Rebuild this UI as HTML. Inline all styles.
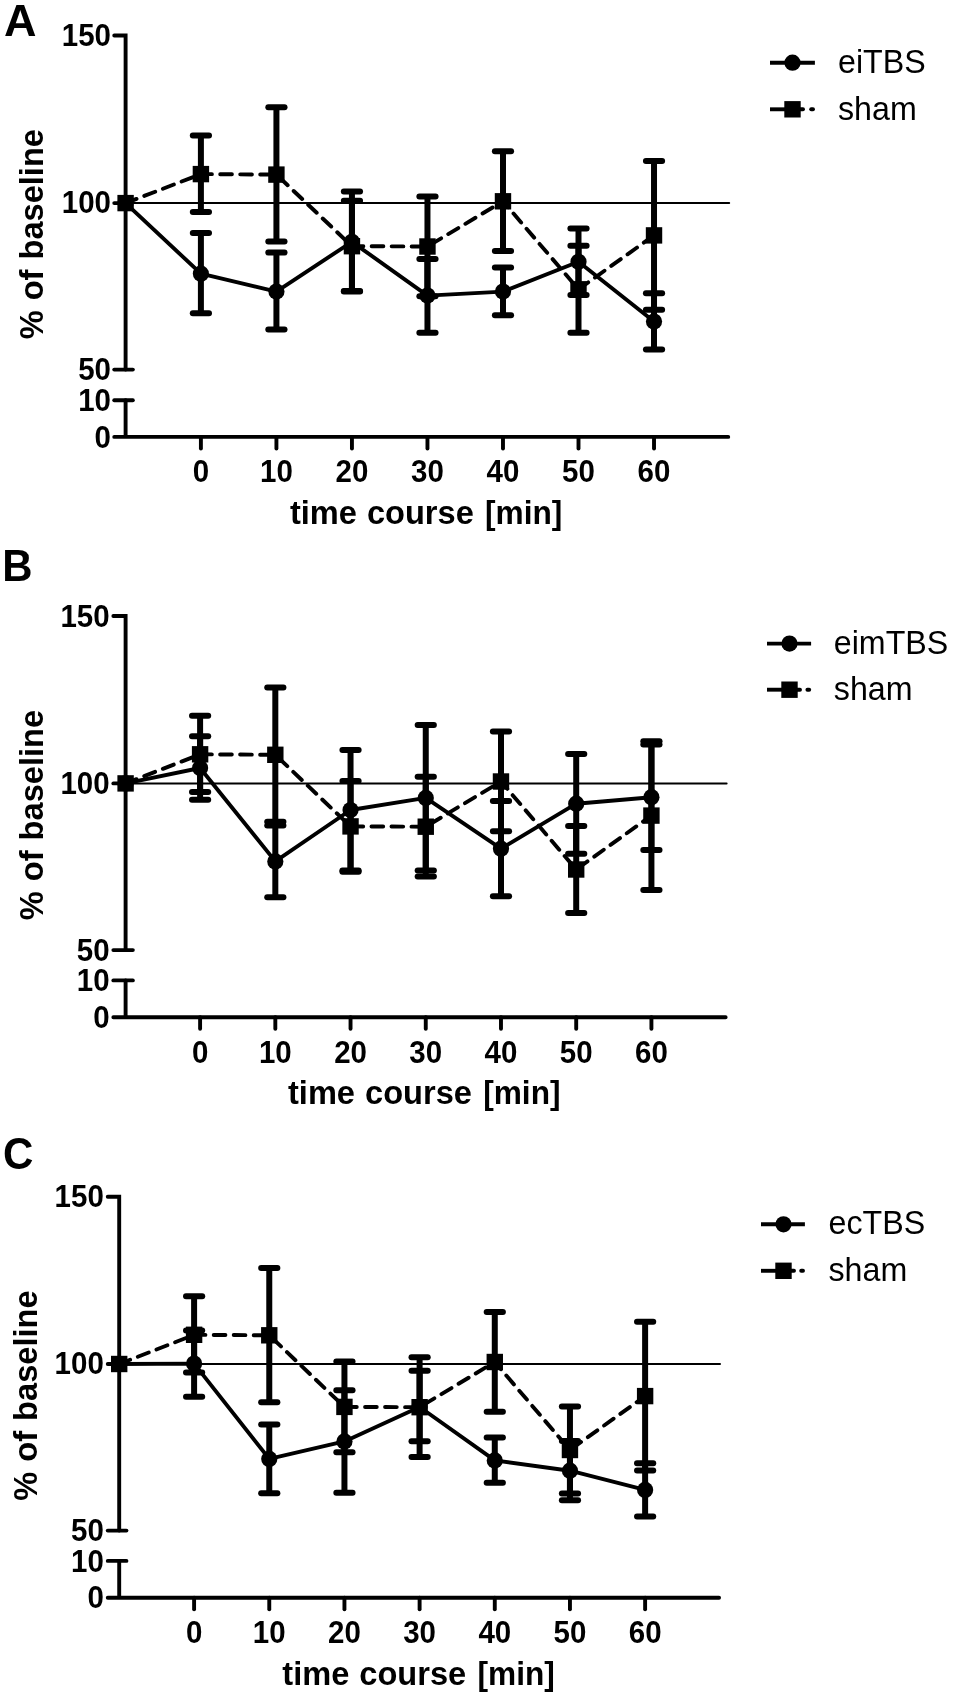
<!DOCTYPE html>
<html lang="en">
<head>
<meta charset="utf-8">
<title>TBS time course</title>
<style>
html,body{margin:0;padding:0;background:#fff;}
body{width:957px;height:1700px;overflow:hidden;}
svg{display:block;will-change:transform;}
svg text{font-family:"Liberation Sans",Arial,Helvetica,sans-serif;fill:#000;stroke:none;}
  .pl{font-size:45px;font-weight:bold;}
.tk{font-size:29.5px;font-weight:bold;}
.ti{font-size:32.6px;font-weight:bold;word-spacing:1px;}
.lg{font-size:32.2px;font-weight:normal;}
</style>
</head>
<body>
<svg width="957" height="1700" viewBox="0 0 957 1700" stroke="#000">
<rect x="0" y="0" width="957" height="1700" fill="#fff" stroke="none"/>
<g id="panelA">
<text transform="translate(4 36.4)" class="pl">A</text>
<line x1="125.6" y1="203.1" x2="729.2" y2="203.1" stroke-width="2.0" stroke-linecap="round"/>
<path d="M114.25 35.5H125.6V369.6" fill="none" stroke-width="3.9" stroke-linejoin="miter" stroke-linecap="round"/>
<line x1="114.25" y1="203.1" x2="125.6" y2="203.1" stroke-width="3.9" stroke-linecap="round"/>
<line x1="114.25" y1="369.6" x2="132.85" y2="369.6" stroke-width="3.9" stroke-linecap="round"/>
<line x1="114.25" y1="400.2" x2="132.85" y2="400.2" stroke-width="3.9" stroke-linecap="round"/>
<path d="M125.6 400.2V436.9M114.25 436.9H728.25" fill="none" stroke-width="3.9" stroke-linecap="round"/>
<line x1="200.9" y1="436.9" x2="200.9" y2="448.45" stroke-width="3.9" stroke-linecap="round"/>
<text transform="translate(200.9 482.2) scale(1.0 1.065)" class="tk" text-anchor="middle">0</text>
<line x1="276.42" y1="436.9" x2="276.42" y2="448.45" stroke-width="3.9" stroke-linecap="round"/>
<text transform="translate(276.42 482.2) scale(1.0 1.065)" class="tk" text-anchor="middle">10</text>
<line x1="351.94" y1="436.9" x2="351.94" y2="448.45" stroke-width="3.9" stroke-linecap="round"/>
<text transform="translate(351.94 482.2) scale(1.0 1.065)" class="tk" text-anchor="middle">20</text>
<line x1="427.46" y1="436.9" x2="427.46" y2="448.45" stroke-width="3.9" stroke-linecap="round"/>
<text transform="translate(427.46 482.2) scale(1.0 1.065)" class="tk" text-anchor="middle">30</text>
<line x1="502.98" y1="436.9" x2="502.98" y2="448.45" stroke-width="3.9" stroke-linecap="round"/>
<text transform="translate(502.98 482.2) scale(1.0 1.065)" class="tk" text-anchor="middle">40</text>
<line x1="578.5" y1="436.9" x2="578.5" y2="448.45" stroke-width="3.9" stroke-linecap="round"/>
<text transform="translate(578.5 482.2) scale(1.0 1.065)" class="tk" text-anchor="middle">50</text>
<line x1="654.02" y1="436.9" x2="654.02" y2="448.45" stroke-width="3.9" stroke-linecap="round"/>
<text transform="translate(654.02 482.2) scale(1.0 1.065)" class="tk" text-anchor="middle">60</text>
<text transform="translate(111 45.8) scale(1.0 1.065)" class="tk" text-anchor="end">150</text>
<text transform="translate(111 213.2) scale(1.0 1.065)" class="tk" text-anchor="end">100</text>
<text transform="translate(111 380.2) scale(1.0 1.065)" class="tk" text-anchor="end">50</text>
<text transform="translate(111 410.8) scale(1.0 1.065)" class="tk" text-anchor="end">10</text>
<text transform="translate(111 447.5) scale(1.0 1.065)" class="tk" text-anchor="end">0</text>
<text transform="translate(289.9 523.5) scale(1.0 1.015)" class="ti" text-anchor="start">time course</text>
<text transform="translate(562.4 523.5) scale(0.971 1.015)" class="ti" text-anchor="end">[min]</text>
<text transform="translate(42.8 234.2) rotate(-90) scale(1.0 1.015)" class="ti" text-anchor="middle">% of baseline</text>
<path d="M200.9 233.1V313.3" stroke-width="6.0" fill="none"/>
<line x1="192.8" y1="233.1" x2="209" y2="233.1" stroke-width="6.0" stroke-linecap="round"/>
<line x1="192.8" y1="313.3" x2="209" y2="313.3" stroke-width="6.0" stroke-linecap="round"/>
<path d="M276.42 252.6V329.6" stroke-width="6.0" fill="none"/>
<line x1="268.32" y1="252.6" x2="284.52" y2="252.6" stroke-width="6.0" stroke-linecap="round"/>
<line x1="268.32" y1="329.6" x2="284.52" y2="329.6" stroke-width="6.0" stroke-linecap="round"/>
<path d="M351.94 191.6V291" stroke-width="6.0" fill="none"/>
<line x1="343.84" y1="191.6" x2="360.04" y2="191.6" stroke-width="6.0" stroke-linecap="round"/>
<line x1="343.84" y1="291" x2="360.04" y2="291" stroke-width="6.0" stroke-linecap="round"/>
<path d="M427.46 258.9V332.8" stroke-width="6.0" fill="none"/>
<line x1="419.36" y1="258.9" x2="435.56" y2="258.9" stroke-width="6.0" stroke-linecap="round"/>
<line x1="419.36" y1="332.8" x2="435.56" y2="332.8" stroke-width="6.0" stroke-linecap="round"/>
<path d="M502.98 267.5V315.2" stroke-width="6.0" fill="none"/>
<line x1="494.88" y1="267.5" x2="511.08" y2="267.5" stroke-width="6.0" stroke-linecap="round"/>
<line x1="494.88" y1="315.2" x2="511.08" y2="315.2" stroke-width="6.0" stroke-linecap="round"/>
<path d="M578.5 228.5V295" stroke-width="6.0" fill="none"/>
<line x1="570.4" y1="228.5" x2="586.6" y2="228.5" stroke-width="6.0" stroke-linecap="round"/>
<line x1="570.4" y1="295" x2="586.6" y2="295" stroke-width="6.0" stroke-linecap="round"/>
<path d="M654.02 293.3V349.6" stroke-width="6.0" fill="none"/>
<line x1="645.92" y1="293.3" x2="662.12" y2="293.3" stroke-width="6.0" stroke-linecap="round"/>
<line x1="645.92" y1="349.6" x2="662.12" y2="349.6" stroke-width="6.0" stroke-linecap="round"/>
<path d="M125.6 203.1L200.9 273.7L276.42 291.6L351.94 241.8L427.46 295.6L502.98 291.6L578.5 261.8L654.02 321.5" fill="none" stroke-width="3.9" stroke-linejoin="round"/>
<circle cx="125.6" cy="203.1" r="8.1" fill="#000" stroke="none"/>
<circle cx="200.9" cy="273.7" r="8.1" fill="#000" stroke="none"/>
<circle cx="276.42" cy="291.6" r="8.1" fill="#000" stroke="none"/>
<circle cx="351.94" cy="241.8" r="8.1" fill="#000" stroke="none"/>
<circle cx="427.46" cy="295.6" r="8.1" fill="#000" stroke="none"/>
<circle cx="502.98" cy="291.6" r="8.1" fill="#000" stroke="none"/>
<circle cx="578.5" cy="261.8" r="8.1" fill="#000" stroke="none"/>
<circle cx="654.02" cy="321.5" r="8.1" fill="#000" stroke="none"/>
<path d="M200.9 135.5V211.9" stroke-width="6.0" fill="none"/>
<line x1="192.8" y1="135.5" x2="209" y2="135.5" stroke-width="6.0" stroke-linecap="round"/>
<line x1="192.8" y1="211.9" x2="209" y2="211.9" stroke-width="6.0" stroke-linecap="round"/>
<path d="M276.42 107.2V241.6" stroke-width="6.0" fill="none"/>
<line x1="268.32" y1="107.2" x2="284.52" y2="107.2" stroke-width="6.0" stroke-linecap="round"/>
<line x1="268.32" y1="241.6" x2="284.52" y2="241.6" stroke-width="6.0" stroke-linecap="round"/>
<path d="M351.94 200.8V291.6" stroke-width="6.0" fill="none"/>
<line x1="343.84" y1="200.8" x2="360.04" y2="200.8" stroke-width="6.0" stroke-linecap="round"/>
<line x1="343.84" y1="291.6" x2="360.04" y2="291.6" stroke-width="6.0" stroke-linecap="round"/>
<path d="M427.46 196.6V296.2" stroke-width="6.0" fill="none"/>
<line x1="419.36" y1="196.6" x2="435.56" y2="196.6" stroke-width="6.0" stroke-linecap="round"/>
<line x1="419.36" y1="296.2" x2="435.56" y2="296.2" stroke-width="6.0" stroke-linecap="round"/>
<path d="M502.98 151.2V251" stroke-width="6.0" fill="none"/>
<line x1="494.88" y1="151.2" x2="511.08" y2="151.2" stroke-width="6.0" stroke-linecap="round"/>
<line x1="494.88" y1="251" x2="511.08" y2="251" stroke-width="6.0" stroke-linecap="round"/>
<path d="M578.5 245.8V332.8" stroke-width="6.0" fill="none"/>
<line x1="570.4" y1="245.8" x2="586.6" y2="245.8" stroke-width="6.0" stroke-linecap="round"/>
<line x1="570.4" y1="332.8" x2="586.6" y2="332.8" stroke-width="6.0" stroke-linecap="round"/>
<path d="M654.02 161V309.7" stroke-width="6.0" fill="none"/>
<line x1="645.92" y1="161" x2="662.12" y2="161" stroke-width="6.0" stroke-linecap="round"/>
<line x1="645.92" y1="309.7" x2="662.12" y2="309.7" stroke-width="6.0" stroke-linecap="round"/>
<path d="M125.6 203.1L200.9 174.1L276.42 174.6L351.94 246.2L427.46 246.5L502.98 201.3L578.5 289.3L654.02 235.4" fill="none" stroke-width="3.9" stroke-dasharray="11.7 8.3" stroke-linecap="round"/>
<rect x="117.4" y="194.9" width="16.4" height="16.4" fill="#000" stroke="none"/>
<rect x="192.7" y="165.9" width="16.4" height="16.4" fill="#000" stroke="none"/>
<rect x="268.22" y="166.4" width="16.4" height="16.4" fill="#000" stroke="none"/>
<rect x="343.74" y="238" width="16.4" height="16.4" fill="#000" stroke="none"/>
<rect x="419.26" y="238.3" width="16.4" height="16.4" fill="#000" stroke="none"/>
<rect x="494.78" y="193.1" width="16.4" height="16.4" fill="#000" stroke="none"/>
<rect x="570.3" y="281.1" width="16.4" height="16.4" fill="#000" stroke="none"/>
<rect x="645.82" y="227.2" width="16.4" height="16.4" fill="#000" stroke="none"/>
<line x1="770" y1="62.7" x2="814.9" y2="62.7" stroke-width="3.9"/>
<circle cx="792.5" cy="62.7" r="8.1" fill="#000" stroke="none"/>
<text transform="translate(838 73.2) scale(1.0 1.02)" class="lg">eiTBS</text>
<line x1="770" y1="109.3" x2="800" y2="109.3" stroke-width="3.9"/>
<line x1="800" y1="109.3" x2="803" y2="109.3" stroke-width="3.9" stroke-linecap="round"/>
<line x1="811.2" y1="109.3" x2="813" y2="109.3" stroke-width="3.9" stroke-linecap="round"/>
<rect x="784.3" y="101.1" width="16.4" height="16.4" fill="#000" stroke="none"/>
<text transform="translate(838 120.1) scale(1.0 1.02)" class="lg">sham</text>
</g>
<g id="panelB">
<text transform="translate(2.2 580.6) scale(0.93 1.0)" class="pl">B</text>
<line x1="125.6" y1="783.4" x2="726.6" y2="783.4" stroke-width="2.0" stroke-linecap="round"/>
<path d="M113.35 616H125.6V950.1" fill="none" stroke-width="3.9" stroke-linejoin="miter" stroke-linecap="round"/>
<line x1="113.35" y1="783.4" x2="125.6" y2="783.4" stroke-width="3.9" stroke-linecap="round"/>
<line x1="113.35" y1="950.1" x2="132.85" y2="950.1" stroke-width="3.9" stroke-linecap="round"/>
<line x1="113.35" y1="980.4" x2="132.85" y2="980.4" stroke-width="3.9" stroke-linecap="round"/>
<path d="M125.6 980.4V1017.2M113.35 1017.2H725.65" fill="none" stroke-width="3.9" stroke-linecap="round"/>
<line x1="200.1" y1="1017.2" x2="200.1" y2="1028.75" stroke-width="3.9" stroke-linecap="round"/>
<text transform="translate(200.1 1062.5) scale(1.0 1.065)" class="tk" text-anchor="middle">0</text>
<line x1="275.32" y1="1017.2" x2="275.32" y2="1028.75" stroke-width="3.9" stroke-linecap="round"/>
<text transform="translate(275.32 1062.5) scale(1.0 1.065)" class="tk" text-anchor="middle">10</text>
<line x1="350.54" y1="1017.2" x2="350.54" y2="1028.75" stroke-width="3.9" stroke-linecap="round"/>
<text transform="translate(350.54 1062.5) scale(1.0 1.065)" class="tk" text-anchor="middle">20</text>
<line x1="425.76" y1="1017.2" x2="425.76" y2="1028.75" stroke-width="3.9" stroke-linecap="round"/>
<text transform="translate(425.76 1062.5) scale(1.0 1.065)" class="tk" text-anchor="middle">30</text>
<line x1="500.98" y1="1017.2" x2="500.98" y2="1028.75" stroke-width="3.9" stroke-linecap="round"/>
<text transform="translate(500.98 1062.5) scale(1.0 1.065)" class="tk" text-anchor="middle">40</text>
<line x1="576.2" y1="1017.2" x2="576.2" y2="1028.75" stroke-width="3.9" stroke-linecap="round"/>
<text transform="translate(576.2 1062.5) scale(1.0 1.065)" class="tk" text-anchor="middle">50</text>
<line x1="651.42" y1="1017.2" x2="651.42" y2="1028.75" stroke-width="3.9" stroke-linecap="round"/>
<text transform="translate(651.42 1062.5) scale(1.0 1.065)" class="tk" text-anchor="middle">60</text>
<text transform="translate(109.6 626.6) scale(1.0 1.065)" class="tk" text-anchor="end">150</text>
<text transform="translate(109.6 793.65) scale(1.0 1.065)" class="tk" text-anchor="end">100</text>
<text transform="translate(109.6 960.7) scale(1.0 1.065)" class="tk" text-anchor="end">50</text>
<text transform="translate(109.6 991) scale(1.0 1.065)" class="tk" text-anchor="end">10</text>
<text transform="translate(109.6 1027.8) scale(1.0 1.065)" class="tk" text-anchor="end">0</text>
<text transform="translate(288 1103.6) scale(1.0 1.015)" class="ti" text-anchor="start">time course</text>
<text transform="translate(560.5 1103.6) scale(0.971 1.015)" class="ti" text-anchor="end">[min]</text>
<text transform="translate(42.8 815.1) rotate(-90) scale(1.0 1.015)" class="ti" text-anchor="middle">% of baseline</text>
<path d="M200.1 736.3V799.7" stroke-width="6.0" fill="none"/>
<line x1="192" y1="736.3" x2="208.2" y2="736.3" stroke-width="6.0" stroke-linecap="round"/>
<line x1="192" y1="799.7" x2="208.2" y2="799.7" stroke-width="6.0" stroke-linecap="round"/>
<path d="M275.32 825.4V897.2" stroke-width="6.0" fill="none"/>
<line x1="267.22" y1="825.4" x2="283.42" y2="825.4" stroke-width="6.0" stroke-linecap="round"/>
<line x1="267.22" y1="897.2" x2="283.42" y2="897.2" stroke-width="6.0" stroke-linecap="round"/>
<path d="M350.54 750V870.4" stroke-width="6.0" fill="none"/>
<line x1="342.44" y1="750" x2="358.64" y2="750" stroke-width="6.0" stroke-linecap="round"/>
<line x1="342.44" y1="870.4" x2="358.64" y2="870.4" stroke-width="6.0" stroke-linecap="round"/>
<path d="M425.76 725V870.4" stroke-width="6.0" fill="none"/>
<line x1="417.66" y1="725" x2="433.86" y2="725" stroke-width="6.0" stroke-linecap="round"/>
<line x1="417.66" y1="870.4" x2="433.86" y2="870.4" stroke-width="6.0" stroke-linecap="round"/>
<path d="M500.98 801V896.2" stroke-width="6.0" fill="none"/>
<line x1="492.88" y1="801" x2="509.08" y2="801" stroke-width="6.0" stroke-linecap="round"/>
<line x1="492.88" y1="896.2" x2="509.08" y2="896.2" stroke-width="6.0" stroke-linecap="round"/>
<path d="M576.2 754.1V853.8" stroke-width="6.0" fill="none"/>
<line x1="568.1" y1="754.1" x2="584.3" y2="754.1" stroke-width="6.0" stroke-linecap="round"/>
<line x1="568.1" y1="853.8" x2="584.3" y2="853.8" stroke-width="6.0" stroke-linecap="round"/>
<path d="M651.42 744.4V850" stroke-width="6.0" fill="none"/>
<line x1="643.32" y1="744.4" x2="659.52" y2="744.4" stroke-width="6.0" stroke-linecap="round"/>
<line x1="643.32" y1="850" x2="659.52" y2="850" stroke-width="6.0" stroke-linecap="round"/>
<path d="M125.6 783.4L200.1 768L275.32 861.4L350.54 810L425.76 797.9L500.98 848.7L576.2 803.7L651.42 797.2" fill="none" stroke-width="3.9" stroke-linejoin="round"/>
<circle cx="125.6" cy="783.4" r="8.1" fill="#000" stroke="none"/>
<circle cx="200.1" cy="768" r="8.1" fill="#000" stroke="none"/>
<circle cx="275.32" cy="861.4" r="8.1" fill="#000" stroke="none"/>
<circle cx="350.54" cy="810" r="8.1" fill="#000" stroke="none"/>
<circle cx="425.76" cy="797.9" r="8.1" fill="#000" stroke="none"/>
<circle cx="500.98" cy="848.7" r="8.1" fill="#000" stroke="none"/>
<circle cx="576.2" cy="803.7" r="8.1" fill="#000" stroke="none"/>
<circle cx="651.42" cy="797.2" r="8.1" fill="#000" stroke="none"/>
<path d="M200.1 715.7V792.1" stroke-width="6.0" fill="none"/>
<line x1="192" y1="715.7" x2="208.2" y2="715.7" stroke-width="6.0" stroke-linecap="round"/>
<line x1="192" y1="792.1" x2="208.2" y2="792.1" stroke-width="6.0" stroke-linecap="round"/>
<path d="M275.32 687.4V821.8" stroke-width="6.0" fill="none"/>
<line x1="267.22" y1="687.4" x2="283.42" y2="687.4" stroke-width="6.0" stroke-linecap="round"/>
<line x1="267.22" y1="821.8" x2="283.42" y2="821.8" stroke-width="6.0" stroke-linecap="round"/>
<path d="M350.54 781V871.8" stroke-width="6.0" fill="none"/>
<line x1="342.44" y1="781" x2="358.64" y2="781" stroke-width="6.0" stroke-linecap="round"/>
<line x1="342.44" y1="871.8" x2="358.64" y2="871.8" stroke-width="6.0" stroke-linecap="round"/>
<path d="M425.76 776.8V876.4" stroke-width="6.0" fill="none"/>
<line x1="417.66" y1="776.8" x2="433.86" y2="776.8" stroke-width="6.0" stroke-linecap="round"/>
<line x1="417.66" y1="876.4" x2="433.86" y2="876.4" stroke-width="6.0" stroke-linecap="round"/>
<path d="M500.98 731.4V831.2" stroke-width="6.0" fill="none"/>
<line x1="492.88" y1="731.4" x2="509.08" y2="731.4" stroke-width="6.0" stroke-linecap="round"/>
<line x1="492.88" y1="831.2" x2="509.08" y2="831.2" stroke-width="6.0" stroke-linecap="round"/>
<path d="M576.2 826V913" stroke-width="6.0" fill="none"/>
<line x1="568.1" y1="826" x2="584.3" y2="826" stroke-width="6.0" stroke-linecap="round"/>
<line x1="568.1" y1="913" x2="584.3" y2="913" stroke-width="6.0" stroke-linecap="round"/>
<path d="M651.42 741.2V889.9" stroke-width="6.0" fill="none"/>
<line x1="643.32" y1="741.2" x2="659.52" y2="741.2" stroke-width="6.0" stroke-linecap="round"/>
<line x1="643.32" y1="889.9" x2="659.52" y2="889.9" stroke-width="6.0" stroke-linecap="round"/>
<path d="M125.6 783.4L200.1 754.3L275.32 754.8L350.54 826.4L425.76 826.7L500.98 781.5L576.2 869.5L651.42 815.6" fill="none" stroke-width="3.9" stroke-dasharray="11.7 8.3" stroke-linecap="round"/>
<rect x="117.4" y="775.2" width="16.4" height="16.4" fill="#000" stroke="none"/>
<rect x="191.9" y="746.1" width="16.4" height="16.4" fill="#000" stroke="none"/>
<rect x="267.12" y="746.6" width="16.4" height="16.4" fill="#000" stroke="none"/>
<rect x="342.34" y="818.2" width="16.4" height="16.4" fill="#000" stroke="none"/>
<rect x="417.56" y="818.5" width="16.4" height="16.4" fill="#000" stroke="none"/>
<rect x="492.78" y="773.3" width="16.4" height="16.4" fill="#000" stroke="none"/>
<rect x="568" y="861.3" width="16.4" height="16.4" fill="#000" stroke="none"/>
<rect x="643.22" y="807.4" width="16.4" height="16.4" fill="#000" stroke="none"/>
<line x1="767" y1="643.6" x2="811.1" y2="643.6" stroke-width="3.9"/>
<circle cx="789.5" cy="643.6" r="8.1" fill="#000" stroke="none"/>
<text transform="translate(833.8 653.8) scale(1.0 1.02)" class="lg">eimTBS</text>
<line x1="767" y1="689.7" x2="797" y2="689.7" stroke-width="3.9"/>
<line x1="797" y1="689.7" x2="800" y2="689.7" stroke-width="3.9" stroke-linecap="round"/>
<line x1="807.4" y1="689.7" x2="809.2" y2="689.7" stroke-width="3.9" stroke-linecap="round"/>
<rect x="781.3" y="681.5" width="16.4" height="16.4" fill="#000" stroke="none"/>
<text transform="translate(833.8 700.1) scale(1.0 1.02)" class="lg">sham</text>
</g>
<g id="panelC">
<text transform="translate(3 1168.6) scale(0.935 1.0)" class="pl">C</text>
<line x1="119.2" y1="1364" x2="720" y2="1364" stroke-width="2.0" stroke-linecap="round"/>
<path d="M107.75 1196.7H119.2V1530.6" fill="none" stroke-width="3.9" stroke-linejoin="miter" stroke-linecap="round"/>
<line x1="107.75" y1="1364" x2="119.2" y2="1364" stroke-width="3.9" stroke-linecap="round"/>
<line x1="107.75" y1="1530.6" x2="126.45" y2="1530.6" stroke-width="3.9" stroke-linecap="round"/>
<line x1="107.75" y1="1560.9" x2="126.45" y2="1560.9" stroke-width="3.9" stroke-linecap="round"/>
<path d="M119.2 1560.9V1597.8M107.75 1597.8H719.05" fill="none" stroke-width="3.9" stroke-linecap="round"/>
<line x1="194.1" y1="1597.8" x2="194.1" y2="1609.35" stroke-width="3.9" stroke-linecap="round"/>
<text transform="translate(194.1 1643.1) scale(1.0 1.065)" class="tk" text-anchor="middle">0</text>
<line x1="269.27" y1="1597.8" x2="269.27" y2="1609.35" stroke-width="3.9" stroke-linecap="round"/>
<text transform="translate(269.27 1643.1) scale(1.0 1.065)" class="tk" text-anchor="middle">10</text>
<line x1="344.44" y1="1597.8" x2="344.44" y2="1609.35" stroke-width="3.9" stroke-linecap="round"/>
<text transform="translate(344.44 1643.1) scale(1.0 1.065)" class="tk" text-anchor="middle">20</text>
<line x1="419.61" y1="1597.8" x2="419.61" y2="1609.35" stroke-width="3.9" stroke-linecap="round"/>
<text transform="translate(419.61 1643.1) scale(1.0 1.065)" class="tk" text-anchor="middle">30</text>
<line x1="494.78" y1="1597.8" x2="494.78" y2="1609.35" stroke-width="3.9" stroke-linecap="round"/>
<text transform="translate(494.78 1643.1) scale(1.0 1.065)" class="tk" text-anchor="middle">40</text>
<line x1="569.95" y1="1597.8" x2="569.95" y2="1609.35" stroke-width="3.9" stroke-linecap="round"/>
<text transform="translate(569.95 1643.1) scale(1.0 1.065)" class="tk" text-anchor="middle">50</text>
<line x1="645.12" y1="1597.8" x2="645.12" y2="1609.35" stroke-width="3.9" stroke-linecap="round"/>
<text transform="translate(645.12 1643.1) scale(1.0 1.065)" class="tk" text-anchor="middle">60</text>
<text transform="translate(103.8 1207.3) scale(1.0 1.065)" class="tk" text-anchor="end">150</text>
<text transform="translate(103.8 1374.25) scale(1.0 1.065)" class="tk" text-anchor="end">100</text>
<text transform="translate(103.8 1541.2) scale(1.0 1.065)" class="tk" text-anchor="end">50</text>
<text transform="translate(103.8 1571.5) scale(1.0 1.065)" class="tk" text-anchor="end">10</text>
<text transform="translate(103.8 1608) scale(1.0 1.065)" class="tk" text-anchor="end">0</text>
<text transform="translate(282.3 1684.5) scale(1.0 1.015)" class="ti" text-anchor="start">time course</text>
<text transform="translate(554.8 1684.5) scale(0.971 1.015)" class="ti" text-anchor="end">[min]</text>
<text transform="translate(36.6 1395.6) rotate(-90) scale(1.0 1.015)" class="ti" text-anchor="middle">% of baseline</text>
<path d="M194.1 1330.5V1396.8" stroke-width="6.0" fill="none"/>
<line x1="186" y1="1330.5" x2="202.2" y2="1330.5" stroke-width="6.0" stroke-linecap="round"/>
<line x1="186" y1="1396.8" x2="202.2" y2="1396.8" stroke-width="6.0" stroke-linecap="round"/>
<path d="M269.27 1424.4V1493.3" stroke-width="6.0" fill="none"/>
<line x1="261.17" y1="1424.4" x2="277.37" y2="1424.4" stroke-width="6.0" stroke-linecap="round"/>
<line x1="261.17" y1="1493.3" x2="277.37" y2="1493.3" stroke-width="6.0" stroke-linecap="round"/>
<path d="M344.44 1390.2V1492.8" stroke-width="6.0" fill="none"/>
<line x1="336.34" y1="1390.2" x2="352.54" y2="1390.2" stroke-width="6.0" stroke-linecap="round"/>
<line x1="336.34" y1="1492.8" x2="352.54" y2="1492.8" stroke-width="6.0" stroke-linecap="round"/>
<path d="M419.61 1370.7V1441.2" stroke-width="6.0" fill="none"/>
<line x1="411.51" y1="1370.7" x2="427.71" y2="1370.7" stroke-width="6.0" stroke-linecap="round"/>
<line x1="411.51" y1="1441.2" x2="427.71" y2="1441.2" stroke-width="6.0" stroke-linecap="round"/>
<path d="M494.78 1437.4V1482.8" stroke-width="6.0" fill="none"/>
<line x1="486.68" y1="1437.4" x2="502.88" y2="1437.4" stroke-width="6.0" stroke-linecap="round"/>
<line x1="486.68" y1="1482.8" x2="502.88" y2="1482.8" stroke-width="6.0" stroke-linecap="round"/>
<path d="M569.95 1441.1V1500.3" stroke-width="6.0" fill="none"/>
<line x1="561.85" y1="1441.1" x2="578.05" y2="1441.1" stroke-width="6.0" stroke-linecap="round"/>
<line x1="561.85" y1="1500.3" x2="578.05" y2="1500.3" stroke-width="6.0" stroke-linecap="round"/>
<path d="M645.12 1463.2V1516.5" stroke-width="6.0" fill="none"/>
<line x1="637.02" y1="1463.2" x2="653.22" y2="1463.2" stroke-width="6.0" stroke-linecap="round"/>
<line x1="637.02" y1="1516.5" x2="653.22" y2="1516.5" stroke-width="6.0" stroke-linecap="round"/>
<path d="M119.2 1364L194.1 1363.6L269.27 1458.9L344.44 1441.4L419.61 1407L494.78 1460.4L569.95 1470.7L645.12 1489.9" fill="none" stroke-width="3.9" stroke-linejoin="round"/>
<circle cx="119.2" cy="1364" r="8.1" fill="#000" stroke="none"/>
<circle cx="194.1" cy="1363.6" r="8.1" fill="#000" stroke="none"/>
<circle cx="269.27" cy="1458.9" r="8.1" fill="#000" stroke="none"/>
<circle cx="344.44" cy="1441.4" r="8.1" fill="#000" stroke="none"/>
<circle cx="419.61" cy="1407" r="8.1" fill="#000" stroke="none"/>
<circle cx="494.78" cy="1460.4" r="8.1" fill="#000" stroke="none"/>
<circle cx="569.95" cy="1470.7" r="8.1" fill="#000" stroke="none"/>
<circle cx="645.12" cy="1489.9" r="8.1" fill="#000" stroke="none"/>
<path d="M194.1 1296.2V1372.6" stroke-width="6.0" fill="none"/>
<line x1="186" y1="1296.2" x2="202.2" y2="1296.2" stroke-width="6.0" stroke-linecap="round"/>
<line x1="186" y1="1372.6" x2="202.2" y2="1372.6" stroke-width="6.0" stroke-linecap="round"/>
<path d="M269.27 1267.9V1402.3" stroke-width="6.0" fill="none"/>
<line x1="261.17" y1="1267.9" x2="277.37" y2="1267.9" stroke-width="6.0" stroke-linecap="round"/>
<line x1="261.17" y1="1402.3" x2="277.37" y2="1402.3" stroke-width="6.0" stroke-linecap="round"/>
<path d="M344.44 1361.5V1452.3" stroke-width="6.0" fill="none"/>
<line x1="336.34" y1="1361.5" x2="352.54" y2="1361.5" stroke-width="6.0" stroke-linecap="round"/>
<line x1="336.34" y1="1452.3" x2="352.54" y2="1452.3" stroke-width="6.0" stroke-linecap="round"/>
<path d="M419.61 1357.3V1456.9" stroke-width="6.0" fill="none"/>
<line x1="411.51" y1="1357.3" x2="427.71" y2="1357.3" stroke-width="6.0" stroke-linecap="round"/>
<line x1="411.51" y1="1456.9" x2="427.71" y2="1456.9" stroke-width="6.0" stroke-linecap="round"/>
<path d="M494.78 1311.9V1411.7" stroke-width="6.0" fill="none"/>
<line x1="486.68" y1="1311.9" x2="502.88" y2="1311.9" stroke-width="6.0" stroke-linecap="round"/>
<line x1="486.68" y1="1411.7" x2="502.88" y2="1411.7" stroke-width="6.0" stroke-linecap="round"/>
<path d="M569.95 1406.5V1493.5" stroke-width="6.0" fill="none"/>
<line x1="561.85" y1="1406.5" x2="578.05" y2="1406.5" stroke-width="6.0" stroke-linecap="round"/>
<line x1="561.85" y1="1493.5" x2="578.05" y2="1493.5" stroke-width="6.0" stroke-linecap="round"/>
<path d="M645.12 1321.7V1470.4" stroke-width="6.0" fill="none"/>
<line x1="637.02" y1="1321.7" x2="653.22" y2="1321.7" stroke-width="6.0" stroke-linecap="round"/>
<line x1="637.02" y1="1470.4" x2="653.22" y2="1470.4" stroke-width="6.0" stroke-linecap="round"/>
<path d="M119.2 1364L194.1 1334.8L269.27 1335.3L344.44 1406.9L419.61 1407.2L494.78 1362L569.95 1450L645.12 1396.1" fill="none" stroke-width="3.9" stroke-dasharray="11.7 8.3" stroke-linecap="round"/>
<rect x="111" y="1355.8" width="16.4" height="16.4" fill="#000" stroke="none"/>
<rect x="185.9" y="1326.6" width="16.4" height="16.4" fill="#000" stroke="none"/>
<rect x="261.07" y="1327.1" width="16.4" height="16.4" fill="#000" stroke="none"/>
<rect x="336.24" y="1398.7" width="16.4" height="16.4" fill="#000" stroke="none"/>
<rect x="411.41" y="1399" width="16.4" height="16.4" fill="#000" stroke="none"/>
<rect x="486.58" y="1353.8" width="16.4" height="16.4" fill="#000" stroke="none"/>
<rect x="561.75" y="1441.8" width="16.4" height="16.4" fill="#000" stroke="none"/>
<rect x="636.92" y="1387.9" width="16.4" height="16.4" fill="#000" stroke="none"/>
<line x1="761" y1="1224.3" x2="804.9" y2="1224.3" stroke-width="3.9"/>
<circle cx="783.5" cy="1224.3" r="8.1" fill="#000" stroke="none"/>
<text transform="translate(828.5 1234.3) scale(1.0 1.02)" class="lg">ecTBS</text>
<line x1="761" y1="1270.8" x2="791" y2="1270.8" stroke-width="3.9"/>
<line x1="791" y1="1270.8" x2="794" y2="1270.8" stroke-width="3.9" stroke-linecap="round"/>
<line x1="801.2" y1="1270.8" x2="803" y2="1270.8" stroke-width="3.9" stroke-linecap="round"/>
<rect x="775.3" y="1262.6" width="16.4" height="16.4" fill="#000" stroke="none"/>
<text transform="translate(828.5 1280.8) scale(1.0 1.02)" class="lg">sham</text>
</g>
</svg>
</body>
</html>
